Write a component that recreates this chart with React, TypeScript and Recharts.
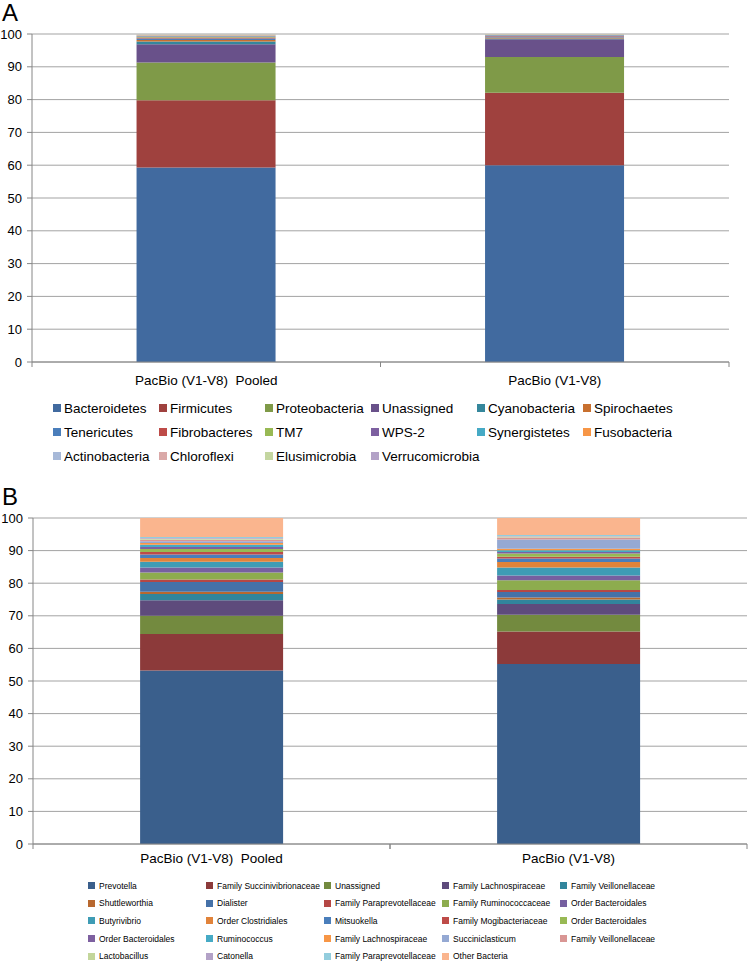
import { BarChart, Bar, XAxis, YAxis, CartesianGrid, Legend } from "recharts";

const FONT = "'Liberation Sans', Arial, Helvetica, sans-serif";
const AXIS = "#868686";
const GRID = "#a3a3a3";

// samples (x categories)
const samples = ["PacBio (V1-V8)  Pooled", "PacBio (V1-V8)"];
const yTicks = [0, 10, 20, 30, 40, 50, 60, 70, 80, 90, 100];

// Panel A: phylum level (%)
const phyla = [
  "Bacteroidetes", "Firmicutes", "Proteobacteria", "Unassigned", "Cyanobacteria", "Spirochaetes",
  "Tenericutes", "Fibrobacteres", "TM7", "WPS-2", "Synergistetes", "Fusobacteria",
  "Actinobacteria", "Chloroflexi", "Elusimicrobia", "Verrucomicrobia",
];
const phylaPooled = [59.3, 20.5, 11.5, 5.6, 0.8, 0.5, 0.4, 0.3, 0.25, 0.15, 0.2, 0.1, 0.2, 0.05, 0.05, 0.05];
const phylaSingle = [60.0, 22.1, 10.9, 5.4, 0.25, 0.3, 0.3, 0.15, 0.1, 0.1, 0.1, 0.05, 0.1, 0.02, 0.02, 0.05];
const phylaColors = [
  "#416a9f", "#9f413e", "#7f9a48", "#69518a", "#35879c", "#c8702f",
  "#4a7ebb", "#be4b48", "#98b954", "#7d60a0", "#46aac5", "#f79646",
  "#a7b9d8", "#daa9a8", "#c4d6a0", "#b3a2c7",
];

// Panel B: genus level (%)
const genera = [
  "Prevotella", "Family Succinivibrionaceae", "Unassigned", "Family Lachnospiraceae", "Family Veillonellaceae",
  "Shuttleworthia", "Dialister", "Family Paraprevotellaceae", "Family Ruminococcaceae", "Order Bacteroidales",
  "Butyrivibrio", "Order Clostridiales", "Mitsuokella", "Family Mogibacteriaceae", "Order Bacteroidales",
  "Order Bacteroidales", "Ruminococcus", "Family Lachnospiraceae", "Succiniclasticum", "Family Veillonellaceae",
  "Lactobacillus", "Catonella", "Family Paraprevotellaceae", "Other Bacteria",
];
const generaPooled = [53.2, 11.2, 5.6, 4.8, 1.9, 0.7, 3.0, 0.7, 2.2, 1.5, 1.8, 1.1, 1.1, 0.8, 0.9, 0.6, 0.7, 0.5, 0.6, 0.4, 0.3, 0.3, 0.3, 5.8];
const generaSingle = [55.2, 10.0, 5.1, 3.3, 1.4, 0.6, 1.7, 0.6, 3.0, 1.5, 2.4, 1.7, 1.1, 0.5, 1.0, 0.5, 0.5, 0.5, 2.8, 0.6, 0.3, 0.2, 0.3, 5.2];
const generaColors = [
  "#3a5f8c", "#8c3a3a", "#738a3f", "#5e4b7c", "#31859c",
  "#b8682f", "#4571a8", "#b54745", "#8dac4e", "#7660a0",
  "#3e9cb5", "#e1833a", "#4a7ebb", "#be4b48", "#98b954",
  "#7d60a0", "#46aac5", "#f79646", "#95a9d3", "#d99694",
  "#c3d69b", "#b3a2c7", "#93cddd", "#fab58e",
];

const toRows = (values: number[][]) =>
  samples.map((sample, i) => {
    const row: Record<string, any> = { sample };
    values[i].forEach((v, k) => (row[`s${k}`] = v));
    return row;
  });

const phylaData = toRows([phylaPooled, phylaSingle]);
const generaData = toRows([generaPooled, generaSingle]);

function SampleTick(props: any) {
  const { x, y, payload, band, dy } = props;
  return (
    <g>
      <line x1={x - band / 2} x2={x - band / 2} y1={y} y2={y + 5} stroke={AXIS} />
      <line x1={x + band / 2} x2={x + band / 2} y1={y} y2={y + 5} stroke={AXIS} />
      <text
        x={x}
        y={y + dy}
        textAnchor="middle"
        fontSize={13.5}
        fontFamily={FONT}
        fill="#000"
        style={{ whiteSpace: "pre" }}
      >
        {payload.value}
      </text>
    </g>
  );
}

function GridLegend(props: any) {
  const { names, colors, cols, colW, rowH, left, fontSize, box, gap } = props;
  const rows = Math.ceil(names.length / cols);
  return (
    <div
      style={{
        display: "grid",
        gridTemplateColumns: `repeat(${cols}, ${colW}px)`,
        gridAutoRows: `${rowH}px`,
        paddingLeft: left,
        height: rows * rowH,
        fontFamily: FONT,
        fontSize,
        color: "#000",
      }}
    >
      {names.map((n: string, i: number) => (
        <div key={i} style={{ display: "flex", alignItems: "center", whiteSpace: "nowrap" }}>
          <span style={{ width: box, height: box, background: colors[i], marginRight: gap, flex: "none" }} />
          {n}
        </div>
      ))}
    </div>
  );
}

const yTick = { fontSize: 13, fontFamily: FONT, fill: "#000" };

export default function App() {
  const bandA = (748 - 32 - 19) / 2;
  const bandB = (748 - 33 - 1) / 2;
  return (
    <div style={{ position: "absolute", left: 0, top: 0, width: 748, height: 961, background: "#fff", overflow: "hidden" }}>
      <div style={{ position: "absolute", left: 2, top: 1, fontFamily: FONT, fontSize: 24, lineHeight: 1 }}>A</div>
      <div style={{ position: "absolute", left: 2, top: 485, fontFamily: FONT, fontSize: 24, lineHeight: 1 }}>B</div>

      <div style={{ position: "absolute", left: 0, top: 0 }}>
        <BarChart width={748} height={485} data={phylaData} barCategoryGap="30%"
          margin={{ top: 34, right: 19, bottom: 17, left: 0 }}>
          <CartesianGrid vertical={false} stroke={GRID} />
          <XAxis dataKey="sample" height={34} axisLine={{ stroke: AXIS }} tickLine={false} tickSize={0} tickMargin={0}
            interval={0} tick={(p: any) => <SampleTick {...p} band={bandA} dy={23} />} />
          <YAxis width={32} domain={[0, 100]} ticks={yTicks} interval={0} axisLine={{ stroke: AXIS }}
            tickLine={{ stroke: AXIS }} tickSize={5} tickMargin={5} tick={yTick} />
          <Legend verticalAlign="bottom" wrapperStyle={{ left: 0, width: 748 }}
            content={() => (
              <GridLegend names={phyla} colors={phylaColors} cols={6} colW={106} rowH={24}
                left={53} fontSize={13.5} box={8} gap={3} />
            )} />
          {phyla.map((n, k) => (
            <Bar key={k} dataKey={`s${k}`} name={n} stackId="a" fill={phylaColors[k]} isAnimationActive={false} />
          ))}
        </BarChart>
      </div>

      <div style={{ position: "absolute", left: 0, top: 485 }}>
        <BarChart width={748} height={480} data={generaData} barCategoryGap="30%"
          margin={{ top: 33, right: 1, bottom: 0, left: 0 }}>
          <CartesianGrid vertical={false} stroke={GRID} />
          <XAxis dataKey="sample" height={33} axisLine={{ stroke: AXIS }} tickLine={false} tickSize={0} tickMargin={0}
            interval={0} tick={(p: any) => <SampleTick {...p} band={bandB} dy={18.5} />} />
          <YAxis width={33} domain={[0, 100]} ticks={yTicks} interval={0} axisLine={{ stroke: AXIS }}
            tickLine={{ stroke: AXIS }} tickSize={5} tickMargin={5} tick={yTick} />
          <Legend verticalAlign="bottom" wrapperStyle={{ left: 0, width: 748 }}
            content={() => (
              <GridLegend names={genera} colors={generaColors} cols={5} colW={118} rowH={17.6}
                left={88} fontSize={8.5} box={7} gap={4} />
            )} />
          {genera.map((n, k) => (
            <Bar key={k} dataKey={`s${k}`} name={n} stackId="b" fill={generaColors[k]} isAnimationActive={false} />
          ))}
        </BarChart>
      </div>
    </div>
  );
}
